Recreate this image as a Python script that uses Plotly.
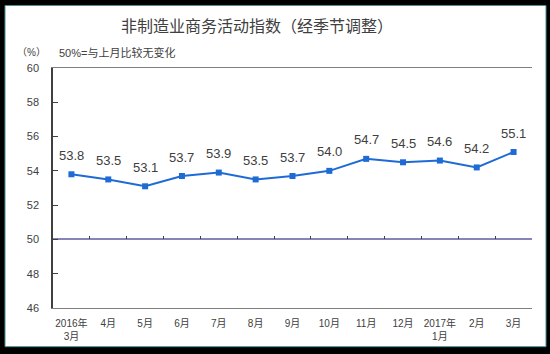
import plotly.graph_objects as go

categories = ["2016年<br>3月", "4月", "5月", "6月", "7月", "8月", "9月", "10月",
              "11月", "12月", "2017年<br>1月", "2月", "3月"]
values = [53.8, 53.5, 53.1, 53.7, 53.9, 53.5, 53.7, 54.0, 54.7, 54.5, 54.6, 54.2, 55.1]
y_ticks = [46, 48, 50, 52, 54, 56, 58, 60]
ref_level = 50

W, H = 550, 354
ML, MR, MT, MB = 53, 18, 68, 44
pw, ph = W - ML - MR, H - MT - MB

def px(x):
    return (x - ML) / pw

def py(y):
    return (H - MB - y) / ph

font_main = "Liberation Sans, Noto Sans CJK SC, sans-serif"
txt = "#404040"

fig = go.Figure()
fig.add_trace(go.Scatter(
    x=categories, y=values, mode="lines+markers",
    line=dict(color="#1F6BD6", width=2),
    marker=dict(symbol="square", size=6, color="#1F6BD6"),
    cliponaxis=False, showlegend=False,
))
# helper trace so that the reference-level axis (50) is drawn
fig.add_trace(go.Scatter(
    x=categories, y=[ref_level] * len(categories), xaxis="x2", mode="lines",
    line=dict(color="rgba(0,0,0,0)", width=0), hoverinfo="skip", showlegend=False,
))

label_annotations = [
    dict(x=c, y=v, xref="x", yref="y", text=f"{v:.1f}", showarrow=False,
         yshift=19, font=dict(size=13, color=txt, family=font_main))
    for c, v in zip(categories, values)
]

fig.update_layout(
    width=W, height=H,
    margin=dict(l=ML, r=MR, t=MT, b=MB),
    paper_bgcolor="black", plot_bgcolor="white",
    font=dict(family=font_main, color=txt),
    xaxis=dict(type="category", categoryorder="array", categoryarray=categories,
               tickfont=dict(size=10, color=txt), ticks="", showline=True,
               linecolor="#7f7f7f", linewidth=1, mirror=True, showgrid=False,
               ticklabelstandoff=6, range=[-0.5, len(categories) - 0.5]),
    xaxis2=dict(type="category", categoryorder="array", categoryarray=categories,
                overlaying="x", anchor="free",
                position=(ref_level - y_ticks[0]) / (y_ticks[-1] - y_ticks[0]),
                showticklabels=False, ticks="inside", ticklen=3, tickcolor="#404040",
                tickson="boundaries", showline=True, linecolor="#8585B8", linewidth=1.5,
                showgrid=False, range=[-0.5, len(categories) - 0.5]),
    yaxis=dict(range=[y_ticks[0], y_ticks[-1]], tickvals=y_ticks,
               tickfont=dict(size=11, color=txt), ticks="inside", ticklen=5,
               tickcolor="#404040", showline=True, linecolor="#404040", linewidth=1.5,
               mirror=False, showgrid=False, zeroline=False, ticklabelstandoff=10),
    shapes=[dict(type="rect", xref="paper", yref="paper", layer="below",
                 x0=px(5), x1=px(546), y0=py(349), y1=py(5),
                 fillcolor="white", line=dict(color="#4a8f8f", width=1))],
    annotations=label_annotations + [
        dict(text="非制造业商务活动指数（经季节调整）", xref="paper", yref="paper",
             x=px(257), y=py(25), xanchor="center", yanchor="middle", showarrow=False,
             font=dict(size=16, color="#404040", family="Noto Sans CJK SC, sans-serif")),
        dict(text="（%）", xref="paper", yref="paper", x=px(15), y=py(52),
             xanchor="left", yanchor="middle", showarrow=False,
             font=dict(size=10, color=txt)),
        dict(text="50%=与上月比较无变化", xref="paper", yref="paper", x=px(57), y=py(52),
             xanchor="left", yanchor="middle", showarrow=False,
             font=dict(size=11, color=txt)),
    ],
)

fig.write_html("out.html")
